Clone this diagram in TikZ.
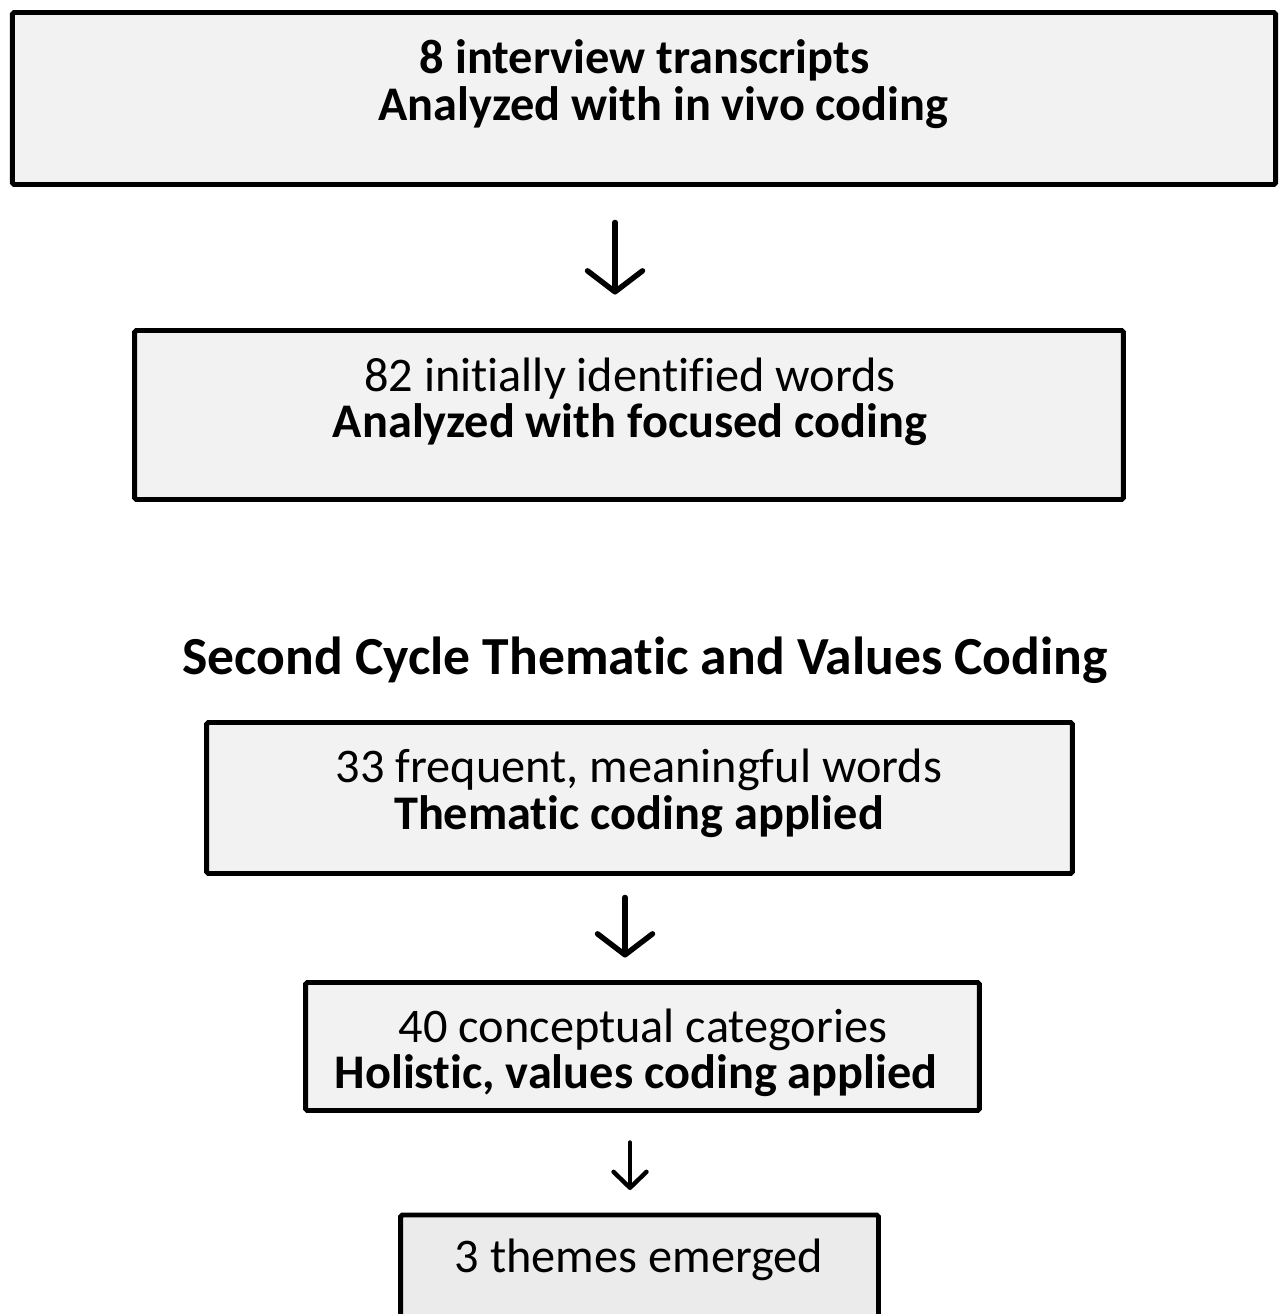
\documentclass[tikz,border=0pt]{standalone}
\usepackage{fontspec}
\setmainfont[Ligatures=NoCommon]{Carlito}
\usepackage{tikz}
\usetikzlibrary{arrows.meta,positioning,calc}
\definecolor{BoxFill}{RGB}{242,242,242}
\definecolor{BoxFillDark}{RGB}{235,235,235}

\tikzset{
  stagebox/.style={draw=black, line width=2.8pt, fill=BoxFill, rounded corners=1pt, inner sep=0pt},
  stagetext/.style={align=center, font=\fontsize{27.5}{26.5}\selectfont, inner sep=0pt},
  flow/.style={line width=3.1pt, line cap=round, -{Straight Barb[round, length=0.42cm, width=1.1cm]}},
  smallflow/.style={line width=2.5pt, line cap=round, -{Straight Barb[round, length=0.32cm, width=0.66cm]}},
}

\begin{document}
\begin{tikzpicture}[x=0.02cm, y=-0.02cm]
  \useasboundingbox (0,0) rectangle (1278,1314);

  % First cycle
  \node[stagebox, minimum width=25.27cm, minimum height=3.44cm] (b1) at (644,98.5) {};
  \node[stagetext] (t1) at (644.5,84) {\textbf{8 interview transcripts}\\ \hspace*{0.76cm}\textbf{Analyzed with in vivo coding}};

  \node[stagebox, minimum width=19.78cm, minimum height=3.38cm] (b2) at (629,415) {};
  \node[stagetext] (t2) at (630,402) {82 initially identified words\\ \textbf{Analyzed with focused coding}};

  % Second cycle
  \node[font=\fontsize{30.5}{34}\selectfont\bfseries, inner sep=0pt] (head) at (645,660) {Second Cycle Thematic and Values Coding};

  \node[stagebox, minimum width=17.32cm, minimum height=3.02cm] (b3) at (639.5,798) {};
  \node[stagetext] (t3) at (639,793.5) {33 frequent, meaningful words\\ \textbf{Thematic coding applied}};

  \node[stagebox, minimum width=13.48cm, minimum height=2.56cm] (b4) at (642.5,1046.5) {};
  \node[stagetext] (t4) at (636,1053) {\hspace*{0.28cm}40 conceptual categories\\ \textbf{Holistic, values coding applied}};

  \node[stagebox, fill=BoxFillDark, minimum width=9.56cm, minimum height=2.6cm, anchor=north] (b5) at (639.5,1212.5) {};
  \node[stagetext] (t5) at (639,1260) {3 themes emerged};

  % Arrows
  \draw[flow, shorten <=0.71cm, shorten >=0.67cm] ($(b1.south)+(-29,0)$) -- ($(b2.north)+(-14,0)$);
  \draw[flow, shorten <=0.43cm, shorten >=0.45cm] ($(b3.south)+(-14.5,0)$) -- ($(b4.north)+(-17.5,0)$);
  \draw[smallflow, shorten <=0.59cm, shorten >=0.45cm] ($(b4.south)+(-12.5,0)$) -- ($(b5.north)+(-9.5,0)$);
\end{tikzpicture}
\end{document}
